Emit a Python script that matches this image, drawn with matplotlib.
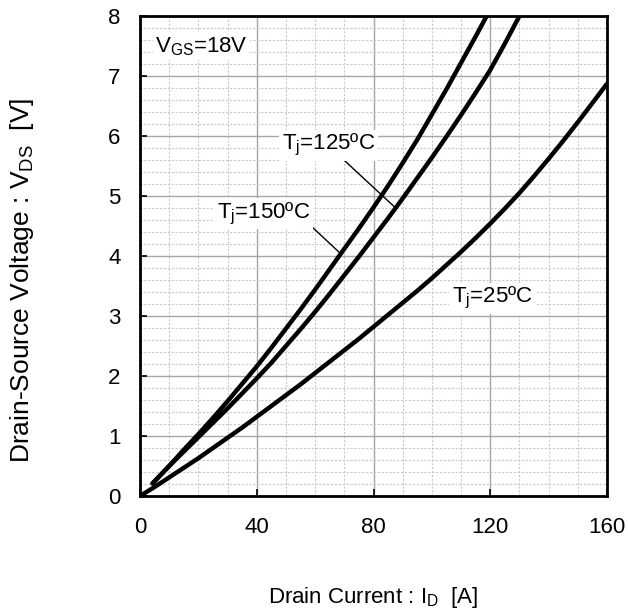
import matplotlib
matplotlib.use("Agg")
import matplotlib.pyplot as plt
from matplotlib.ticker import MultipleLocator

plt.rcParams['font.family'] = ['Liberation Sans', 'DejaVu Sans']
plt.rcParams['mathtext.fontset'] = 'custom'
plt.rcParams['mathtext.rm'] = 'Liberation Sans'
plt.rcParams['mathtext.it'] = 'Liberation Sans:italic'

# Drain current (A) and drain-source voltage (V)
id_25 = [0, 5, 10, 15, 20, 25, 30, 35, 40, 45, 50, 55, 60, 65, 70, 75, 80,
         85, 90, 95, 100, 105, 110, 115, 120, 125, 130, 135, 140, 145, 150, 155, 160]
vds_25 = [0, 0.15, 0.31, 0.47, 0.63, 0.8, 0.97, 1.14, 1.32, 1.5, 1.68, 1.86, 2.05, 2.24, 2.43, 2.62, 2.82,
          3.02, 3.22, 3.42, 3.63, 3.85, 4.07, 4.3, 4.54, 4.79, 5.05, 5.33, 5.62, 5.92, 6.23, 6.55, 6.87]

id_125 = [4.3, 10, 15, 20, 25, 30, 35, 40, 45, 50, 55, 60, 65, 70, 75, 80,
          85, 90, 95, 100, 105, 110, 115, 120, 125, 130]
vds_125 = [0.21, 0.5, 0.74, 0.98, 1.22, 1.46, 1.71, 1.96, 2.22, 2.5, 2.78, 3.07, 3.37, 3.68, 3.99, 4.31,
           4.63, 4.96, 5.3, 5.64, 5.99, 6.35, 6.72, 7.1, 7.54, 8.0]

id_150 = [4.3, 10, 15, 20, 25, 30, 35, 40, 45, 50, 55, 60, 65, 70, 75, 80,
          85, 90, 95, 100, 105, 110, 115, 119]
vds_150 = [0.21, 0.5, 0.77, 1.03, 1.3, 1.58, 1.87, 2.16, 2.47, 2.79, 3.11, 3.44, 3.78, 4.12, 4.46, 4.81,
           5.17, 5.55, 5.94, 6.36, 6.78, 7.22, 7.66, 8.02]

x_ticks = [0, 40, 80, 120, 160]
y_ticks = [0, 1, 2, 3, 4, 5, 6, 7, 8]

fig = plt.figure(figsize=(6.28, 6.09), dpi=100)
ax = fig.add_axes([140 / 628, 113 / 609, 467 / 628, 480 / 609])

ax.set_xlim(0, 160)
ax.set_ylim(0, 8)
ax.set_xticks(x_ticks)
ax.set_yticks(y_ticks)
ax.xaxis.set_minor_locator(MultipleLocator(10))
ax.yaxis.set_minor_locator(MultipleLocator(0.2))

ax.grid(which='major', color='#a6a6a6', linewidth=1.0, linestyle='-')
ax.grid(which='minor', color='#c8c8c8', linewidth=0.8, linestyle=(0, (2, 1.5)))
ax.set_axisbelow(True)

ax.tick_params(which='major', direction='in', length=5, width=1.2, labelsize=16)
ax.tick_params(axis='y', pad=14)
ax.tick_params(axis='x', pad=15)
ax.tick_params(which='minor', length=0)
for s in ax.spines.values():
    s.set_linewidth(2)

# curves
for xs, ys in [(id_25, vds_25), (id_125, vds_125), (id_150, vds_150)]:
    ax.plot(xs, ys, color='black', linewidth=3.2, solid_capstyle='round',
            solid_joinstyle='round', zorder=3)

box = dict(facecolor='white', edgecolor='none', pad=2)

ax.text(5.2, 7.4, r'$\mathrm{V_{GS}}$=18V', fontsize=16, va='baseline', ha='left', bbox=box, zorder=4)
ax.text(48.7, 5.77, r'$\mathrm{T_j}$=125ºC', fontsize=16, va='baseline', ha='left', bbox=box, zorder=4)
ax.text(26.4, 4.63, r'$\mathrm{T_j}$=150ºC', fontsize=16, va='baseline', ha='left', bbox=box, zorder=4)
ax.text(106.9, 3.22, r'$\mathrm{T_j}$=25ºC', fontsize=16, va='baseline', ha='left', bbox=box, zorder=4)

# leader lines
ax.plot([69.2, 87.6], [5.63, 4.8], color='black', linewidth=1, zorder=2.5)
ax.plot([58.6, 68.5], [4.5, 4.05], color='black', linewidth=1, zorder=2.5)

fig.text(373.5 / 628, 1 - 603 / 609, r'Drain Current : $\mathrm{I_D}$  [A]',
         fontsize=16, ha='center', va='baseline')
fig.text(22 / 628, 1 - 280 / 609, r'Drain-Source Voltage : $\mathrm{V_{DS}}$  [V]',
         fontsize=19, ha='center', va='center', rotation=90)

fig.savefig('out.png', dpi=100)
